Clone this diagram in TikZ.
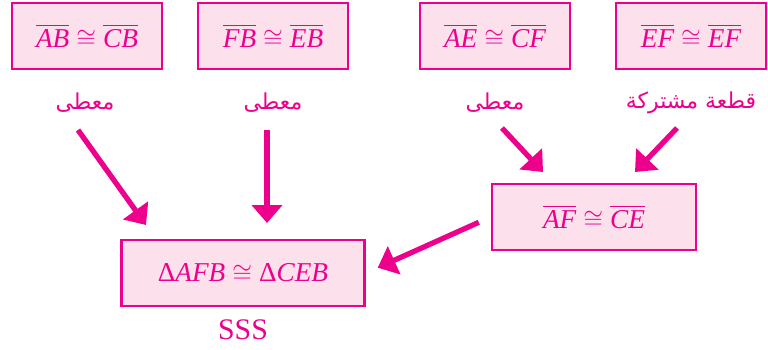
\documentclass[tikz,border=0pt]{standalone}
\usepackage{amsmath}
\usepackage{fontspec}
\setmainfont{Liberation Serif}
\usetikzlibrary{arrows.meta, positioning, calc}
\newfontfamily\arabicfont[Script=Arabic]{DejaVu Sans}
\TeXXeTstate=1
\definecolor{RoseInk}{HTML}{EC008C}
\definecolor{RoseFill}{HTML}{FCE0EC}
\newcommand{\ProofFont}{\fontsize{15.5pt}{18pt}\selectfont}
\newcommand{\seg}[1]{\overline{\textit{#1}}}
\newcommand{\tri}[1]{\text{\textup{Δ}\textit{#1}}}

\begin{document}
\begin{tikzpicture}[x=0.02cm, y=-0.02cm,
  factbox/.style={draw=RoseInk, fill=RoseFill, line width=1.6pt, text=RoseInk,
    minimum width=3cm, minimum height=1.32cm, inner sep=0pt, font=\ProofFont},
  reason/.style={text=RoseInk, inner sep=1pt, font=\arabicfont\fontsize{12.5pt}{15pt}\selectfont},
  flow/.style={RoseInk, line width=3pt, -{Triangle[length=0.36cm, width=0.6cm]}}]
  \useasboundingbox (0,0) rectangle (768,349);
  % given facts
  \node[factbox] (f1) at (87,36) {$\seg{AB}\cong\seg{CB}$};
  \node[factbox] (f2) at (273,36) {$\seg{FB}\cong\seg{EB}$};
  \node[factbox] (f3) at (495,36) {$\seg{AE}\cong\seg{CF}$};
  \node[factbox] (f4) at (691,36) {$\seg{EF}\cong\seg{EF}$};
  \node[reason] (r1) at (85,103) {\beginR معطى\endR};
  \node[reason] (r2) at (273,103) {\beginR معطى\endR};
  \node[reason] (r3) at (495,103) {\beginR معطى\endR};
  \node[reason] (r4) at (691,103) {\beginR قطعة مشتركة\endR};
  % derived facts
  \node[factbox, minimum width=4.08cm] (mid) at (594,217) {$\seg{AF}\cong\seg{CE}$};
  \node[factbox, minimum width=4.86cm] (res) at (243,273) {$\tri{AFB}\cong\tri{CEB}$};
  \node[text=RoseInk, font=\fontsize{17pt}{19pt}\selectfont] (sss) at (243,330) {SSS};
  % arrows
  \coordinate (s1) at (78,130);  \coordinate (e1) at (146,225);
  \coordinate (s2) at (267,130); \coordinate (e2) at (267,223);
  \coordinate (s3) at (502,128); \coordinate (e3) at (543,172);
  \coordinate (s4) at (677,128); \coordinate (e4) at (635,172);
  \draw[flow] (s1) -- (e1);
  \draw[flow] (s2) -- (e2);
  \draw[flow] (s3) -- (e3);
  \draw[flow] (s4) -- (e4);
  \draw[flow, shorten <=0.26cm, shorten >=0.26cm] (mid.west) -- (res.east);
\end{tikzpicture}
\end{document}
